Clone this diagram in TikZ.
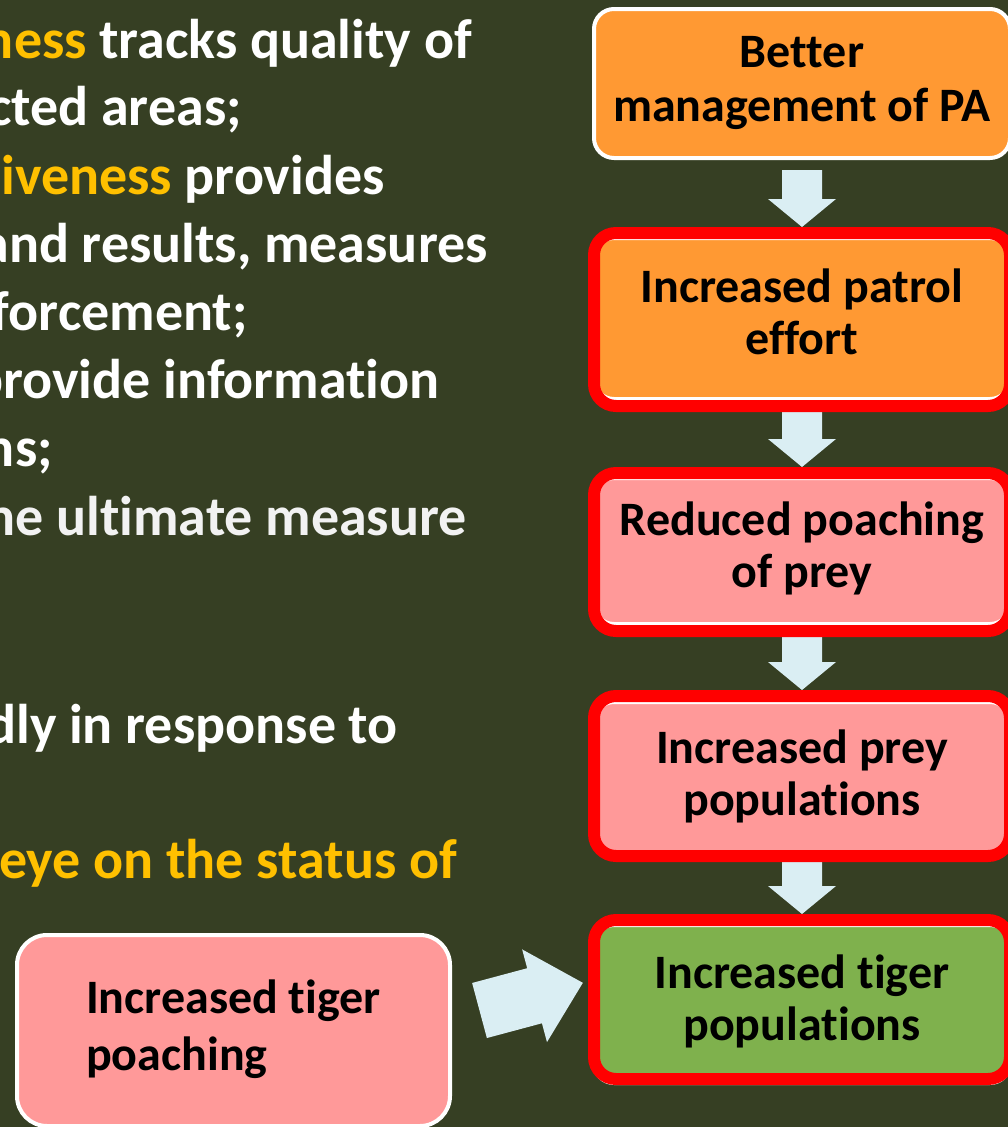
\documentclass[tikz,border=0pt]{standalone}
\usepackage{fontspec}
\setmainfont{Carlito}[Ligatures=NoCommon]
\usetikzlibrary{calc}

\definecolor{slidebg}{HTML}{363F23}
\definecolor{hiorange}{HTML}{FFC000}
\definecolor{boxorange}{HTML}{FF9933}
\definecolor{boxpink}{HTML}{FF9999}
\definecolor{boxgreen}{HTML}{7FB14D}
\definecolor{arrowblue}{HTML}{DAEEF3}

\tikzset{
  note/.style={anchor=base east, inner sep=0pt, text=white,
    font=\fontsize{56}{68}\selectfont\bfseries},
  flowbox/.style={draw=white, line width=4pt, rounded corners=20pt,
    minimum width=416pt, inner sep=0pt, align=center,
    font=\fontsize{48}{52}\selectfont\bfseries},
  ring/.style={rectangle, minimum width=416pt, inner sep=0pt, outer sep=0pt},
  flowarrow/.style={fill=arrowblue}
}

\begin{document}
\begin{tikzpicture}[x=1pt,y=-1pt]
    \useasboundingbox (0,0) rectangle (1008,1127);
    \clip (0,0) rectangle (1008,1127);
    \fill[slidebg] (0,0) rectangle (1008,1127);

    % bullet text, cut off at the left
    \node[note] (n1) at (472,58) {\textcolor{hiorange}{ness} tracks quality of};
    \node[note] (n2) at (242,125) {cted areas;};
    \node[note] (n3) at (385,194) {\textcolor{hiorange}{tiveness} provides};
    \node[note] (n4) at (488,262) {and results, measures};
    \node[note] (n5) at (248,330) {forcement;};
    \node[note] (n6) at (440,398) {provide information};
    \node[note] (n7) at (53,466) {ns;};
    \node[note, text=white!95!black] (n8) at (467,535) {he ultimate measure};
    \node[note] (n9) at (398,743) {dly in response to};
    \node[note, text=hiorange] (n10) at (457,878) {eye on the status of};

    % chain of boxes
    \node[flowbox, fill=boxorange, minimum height=149pt,
        font=\fontsize{48}{54}\selectfont\bfseries] (better) at (802,83.5)
        {\strut Better\\\strut management of PA};
    \node[flowbox, fill=boxorange, minimum height=161pt] (patrol) at (802,318.5)
        {\strut Increased patrol\\\strut effort};
    \node[flowbox, fill=boxpink, minimum height=146pt] (poaching) at (802,551)
        {\strut Reduced poaching\\\strut of prey};
    \node[flowbox, fill=boxpink, minimum height=154pt] (prey) at (802,779)
        {\strut Increased prey\\\strut populations};
    \node[flowbox, fill=boxgreen, minimum height=158pt] (tigers) at (802,1004)
        {\strut Increased tiger\\\strut populations};

    \node[flowbox, fill=boxpink, rounded corners=30pt, minimum width=433pt,
        minimum height=191pt, align=left, font=\fontsize{48}{57}\selectfont\bfseries]
        (tigerpoach) at (233.5,1030.5) {\strut Increased tiger\\\strut poaching};

    % frames round the boxes that are highlighted
    \node[ring, minimum height=173pt] (patrolring) at (802,319.5) {};
    \node[ring, minimum height=158pt] (poachring) at (802,552) {};
    \node[ring, minimum height=160pt] (preyring) at (802,776) {};
    \node[ring, minimum height=159pt] (tigerring) at (802,999.5) {};

    % down arrows
    \foreach \a/\b/\d in {better/patrolring/10, patrolring/poachring/6,
        poachring/preyring/6, preyring/tigerring/6}
        \fill[flowarrow] ($(\a.south)+(-20,\d)$) -- ($(\b.north)+(-20,-34)$)
            -- ($(\b.north)+(-34,-34)$) -- ($(\b.north)+(0,-6)$)
            -- ($(\b.north)+(34,-34)$) -- ($(\b.north)+(20,-34)$)
            -- ($(\a.south)+(20,\d)$) -- cycle;

    % the red frames go over the arrow tips
    \foreach \r in {patrolring, poachring, preyring, tigerring}
        \draw[draw=red, line width=12pt, rounded corners=22pt]
            (\r.north west) rectangle (\r.south east);

    % side arrow into the tiger box
    \coordinate (kick) at (479.5,1010.5);
    \fill[flowarrow, shift={(kick)}, rotate=15] (0,-28.5) -- (57,-28.5) -- (57,-48)
        -- (107,0) -- (57,48) -- (57,28.5) -- (0,28.5) -- cycle;
\end{tikzpicture}
\end{document}
